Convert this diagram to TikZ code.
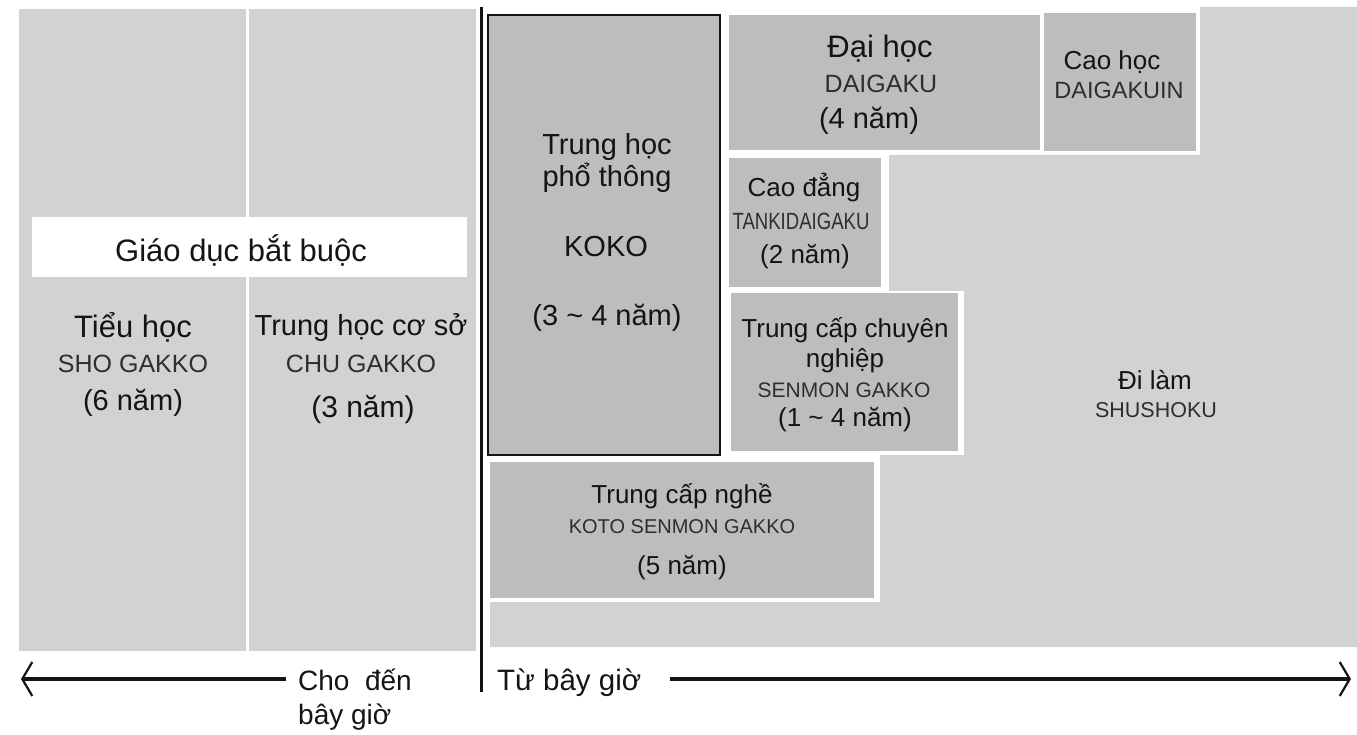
\documentclass[tikz,border=0pt]{standalone}
\usepackage{fontspec}
\setmainfont{Liberation Sans}
\usetikzlibrary{arrows.meta}
\definecolor{lg}{HTML}{D1D2D4}
\definecolor{mg}{HTML}{BCBDBF}
\definecolor{ink}{HTML}{141414}
\definecolor{rom}{HTML}{2E2E2E}
\newcommand{\fz}[1]{\fontsize{#1}{#1}\selectfont}
\tikzset{
  lgbox/.style={fill=lg, draw=none, inner sep=0pt, outer sep=0pt},
  mgbox/.style={fill=mg, draw=none, inner sep=0pt, outer sep=0pt},
  wbox/.style={fill=white, draw=none, inner sep=0pt, outer sep=0pt},
  kokobox/.style={fill=mg, draw=ink, line width=2pt, inner sep=0pt, outer sep=0pt},
  lbl/.style={anchor=base, inner sep=0pt, text=ink},
  roml/.style={anchor=base, inner sep=0pt, text=rom},
  axis/.style={draw=ink, line width=3pt},
  timearrow/.style={draw=ink, line width=3.2pt, -{Straight Barb[length=10pt,width=34pt,line width=2.2pt]}}
}
\begin{document}
\begin{tikzpicture}[x=1pt,y=-1pt]
\useasboundingbox (0,0) rectangle (1357,735);
% left region
\node[lgbox, minimum width=227pt, minimum height=642pt] (col1) at (132.5,330) {};
\node[lgbox, minimum width=227pt, minimum height=642pt] (col2) at (362.5,330) {};
\node[wbox, minimum width=435pt, minimum height=60pt] (compbox) at (249.5,247) {};
% right light region
\fill[lg] (1200,7) -- (1357,7) -- (1357,647) -- (490,647) -- (490,602) -- (880,602) -- (880,455) -- (964,455) -- (964,291) -- (889,291) -- (889,155) -- (1200,155) -- cycle;
% boxes
\node[kokobox, minimum width=232pt, minimum height=440pt] (koko) at (604,235) {};
\node[mgbox, minimum width=311pt, minimum height=135pt] (daigaku) at (884.5,82.5) {};
\node[mgbox, minimum width=152pt, minimum height=138pt] (daigakuin) at (1120,82) {};
\node[mgbox, minimum width=152pt, minimum height=129pt] (tanki) at (805,222.5) {};
\node[mgbox, minimum width=227pt, minimum height=158pt] (senmon) at (844.5,372) {};
\node[mgbox, minimum width=384pt, minimum height=136pt] (koto) at (682,530) {};
% divider
\coordinate (divtop) at (481.5,7);
\coordinate (divbot) at (481.5,692);
\draw[axis] (divtop) -- (divbot);
% texts left
\node[lbl] (t-comp) at (241,262) {\fz{31}Giáo dục bắt buộc};
\node[lbl] (t-sho1) at (133,337) {\fz{31}Tiểu học};
\node[roml] (t-sho2) at (133,372) {\fz{25}SHO GAKKO};
\node[lbl] (t-sho3) at (133,410) {\fz{29}(6 năm)};
\node[lbl] (t-chu1) at (361,335) {\fz{29}Trung học cơ sở};
\node[roml] (t-chu2) at (361,372) {\fz{25}CHU GAKKO};
\node[lbl] (t-chu3) at (363,417) {\fz{30}(3 năm)};
% koko
\node[lbl] (t-koko1) at (607,155) {\fz{29}Trung học};
\node[lbl] (t-koko2) at (607,187) {\fz{29}phổ thông};
\node[lbl] (t-koko3) at (606,257) {\fz{29}KOKO};
\node[lbl] (t-koko4) at (607,325) {\fz{29}(3 \textasciitilde{} 4 năm)};
% daigaku
\node[lbl] (t-dai1) at (880,58) {\fz{31}Đại học};
\node[roml] (t-dai2) at (881,93) {\fz{25}DAIGAKU};
\node[lbl] (t-dai3) at (869,129) {\fz{29}(4 năm)};
% daigakuin
\node[lbl] (t-in1) at (1112,70) {\fz{26}Cao học};
\node[roml] (t-in2) at (1119,99) {\fz{23.5}DAIGAKUIN};
% tanki
\node[lbl] (t-tk1) at (804,197) {\fz{26}Cao đẳng};
\node[roml] (t-tk2) at (801,230) {\fz{23.5}\scalebox{0.79}[1]{TANKIDAIGAKU}};
\node[lbl] (t-tk3) at (805,264) {\fz{26}(2 năm)};
% senmon
\node[lbl] (t-sm1) at (845,337) {\fz{26}Trung cấp chuyên};
\node[lbl] (t-sm2) at (845,367) {\fz{26}nghiệp};
\node[roml] (t-sm3) at (844,397) {\fz{21}SENMON GAKKO};
\node[lbl] (t-sm4) at (845,426) {\fz{26}(1 \textasciitilde{} 4 năm)};
% koto
\node[lbl] (t-kt1) at (682,503) {\fz{26}Trung cấp nghề};
\node[roml] (t-kt2) at (682,533) {\fz{20}KOTO SENMON GAKKO};
\node[lbl] (t-kt3) at (682,574) {\fz{26}(5 năm)};
% shushoku
\node[lbl] (t-sh1) at (1155,389) {\fz{26}Đi làm};
\node[roml] (t-sh2) at (1156,417) {\fz{21.5}SHUSHOKU};
% bottom
\node[lbl, anchor=base west] (t-until1) at (298,690) {\fz{28}Cho\ \ đến};
\node[lbl, anchor=base west] (t-until2) at (298,724) {\fz{28}bây giờ};
\node[lbl, anchor=base west] (t-from) at (497,690) {\fz{29.5}Từ bây giờ};
\coordinate (la-s) at (286,679);
\coordinate (la-e) at (21,679);
\coordinate (ra-s) at (670,679);
\coordinate (ra-e) at (1351,679);
\draw[timearrow] (la-s) -- (la-e);
\draw[timearrow] (ra-s) -- (ra-e);
\end{tikzpicture}
\end{document}
